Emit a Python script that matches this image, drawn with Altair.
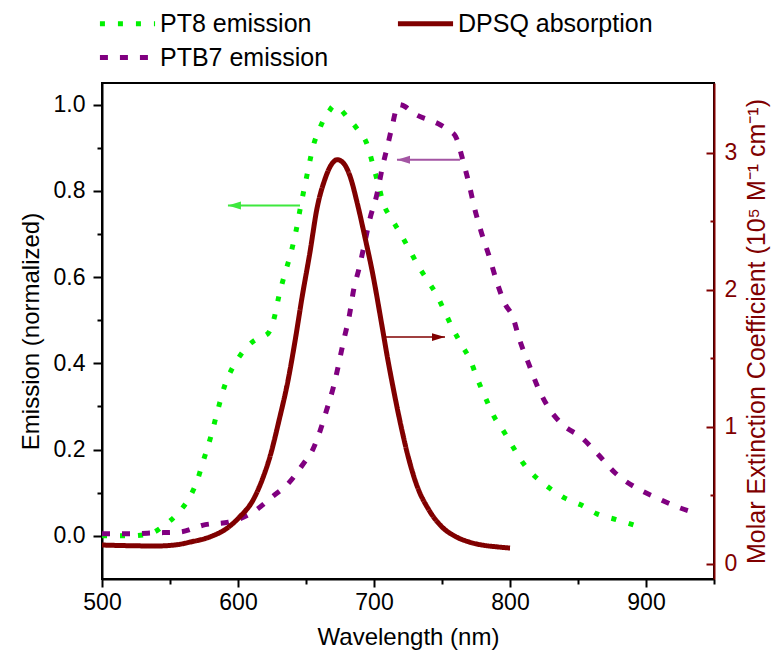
import altair as alt
import pandas as pd

# ---------------- data ----------------
pt8_wl = [500, 510, 522, 537, 545, 556, 565, 570, 574, 580, 585, 590, 596, 602, 610, 616, 622, 627, 630,
          634, 639, 643, 646, 649, 652, 655, 660, 663, 667, 671, 675, 680, 688, 695, 699, 703, 707, 713, 719,
          726, 732, 739, 746, 752, 758, 765, 771, 776, 782, 788, 796, 803, 810, 818, 829, 840, 852, 864, 879, 893]
pt8_em = [0.0, 0.0, 0.0, 0.007, 0.023, 0.053, 0.093, 0.128, 0.169, 0.23, 0.29, 0.346, 0.39, 0.42, 0.448, 0.46, 0.469, 0.51, 0.555,
          0.603, 0.657, 0.712, 0.763, 0.81, 0.856, 0.90, 0.944, 0.965, 0.985, 0.998, 0.99, 0.972, 0.942, 0.907, 0.863, 0.817, 0.77, 0.735, 0.703,
          0.664, 0.629, 0.594, 0.559, 0.52, 0.48, 0.44, 0.406, 0.364, 0.32, 0.278, 0.239, 0.202, 0.167, 0.139, 0.111, 0.088, 0.072, 0.051, 0.037, 0.023]

ptb7_wl = [500, 522, 539, 557, 576, 593, 610, 625, 638, 648, 655, 660, 665, 670, 678, 682, 685, 689, 693, 697,
           702, 706, 710, 713, 718, 723, 727, 732, 740, 747, 755, 760, 765, 770, 774, 779, 785, 790, 796, 802,
           807, 814, 820, 827, 838, 853, 865, 878, 893, 908, 924, 939]
ptb7_em = [0.005, 0.005, 0.007, 0.009, 0.026, 0.032, 0.053, 0.09, 0.125, 0.167, 0.2, 0.24, 0.29, 0.343, 0.457, 0.513, 0.57, 0.62, 0.677, 0.735,
           0.79, 0.852, 0.905, 0.945, 1.0, 0.995, 0.985, 0.975, 0.965, 0.956, 0.94, 0.926, 0.875, 0.814, 0.759, 0.703, 0.645, 0.592, 0.54, 0.508,
           0.455, 0.397, 0.348, 0.304, 0.26, 0.227, 0.188, 0.144, 0.111, 0.088, 0.066, 0.051]

dpsq_wl = [500, 520, 540, 555, 565, 579, 592, 601, 611, 618, 624, 630, 637, 642, 647, 653, 658, 664, 669, 673,
           678, 682, 688, 693, 699, 706, 710, 714, 720, 726, 732, 740, 750, 760, 770, 780, 790, 800]
dpsq_abs = [0.138, 0.133, 0.131, 0.14, 0.16, 0.196, 0.261, 0.341, 0.465, 0.62, 0.8, 1.04, 1.35, 1.63, 1.94, 2.28, 2.59, 2.81, 2.92, 2.95,
            2.92, 2.84, 2.62, 2.40, 2.12, 1.73, 1.50, 1.29, 1.0, 0.75, 0.56, 0.4, 0.27, 0.2, 0.16, 0.137, 0.125, 0.116]

series_names = ["PT8 emission", "PTB7 emission", "DPSQ absorption"]
series_colors = ["#00f000", "#800080", "#800000"]
series_dashes = [[5, 13], [8, 12], [1, 0]]

x_ticks = [500, 550, 600, 650, 700, 750, 800, 850, 900, 950]
yl_ticks = [0.0, 0.1, 0.2, 0.3, 0.4, 0.5, 0.6, 0.7, 0.8, 0.9, 1.0]
yr_ticks = [0, 0.5, 1, 1.5, 2, 2.5, 3]

# arrows: [PT8 (left axis), PTB7 (left axis)], DPSQ (right axis)
arrow_left_from = [645.6, 763.2]
arrow_left_to = [592.6, 716.9]
arrow_left_y = [0.766, 0.872]
arrow_left_colors = ["#3ee83e", "#a355a3"]
arrow_right_from = [708.1]
arrow_right_to = [752.2]
arrow_right_y = [1.656]

FONT = "Liberation Sans"
DARK_RED = "#800000"
HEAD_LEFT = "M0,0L2,-0.6L2,0.6Z"
HEAD_RIGHT = "M0,0L-2,-0.6L-2,0.6Z"
LEGEND_LINE = "M-4,0L4,0"

pt8 = pd.DataFrame({"wl": pt8_wl, "val": pt8_em, "series": "PT8 emission"})
ptb7 = pd.DataFrame({"wl": ptb7_wl, "val": ptb7_em, "series": "PTB7 emission"})
dpsq = pd.DataFrame({"wl": dpsq_wl, "val": dpsq_abs, "series": "DPSQ absorption"})

x_scale = alt.Scale(domain=[500, 950], nice=False, zero=False)
yl_scale = alt.Scale(domain=[-0.1, 1.05], nice=False, zero=False)
yr_scale = alt.Scale(domain=[-0.11, 3.51], nice=False, zero=False)

x_axis = alt.Axis(
    values=x_ticks, format="d",
    labelExpr="datum.value % 100 === 0 ? datum.label : ''",
    tickSize={"condition": {"test": "datum.value % 100 === 0", "value": 8}, "value": 5},
    title="Wavelength (nm)", titleFontSize=24, labelFontSize=23,
    labelPadding=4, titlePadding=11, grid=False,
    domainColor="black", tickColor="black", domainWidth=2, tickWidth=2,
    labelColor="black", titleColor="black", labelFlush=False,
)
yl_axis = alt.Axis(
    values=yl_ticks,
    labelExpr="round(datum.value*10) % 2 === 0 ? format(datum.value, '.1f') : ''",
    tickSize={"condition": {"test": "round(datum.value*10) % 2 === 0", "value": 9}, "value": 5},
    title="Emission (normalized)", titleFontSize=24, labelFontSize=23,
    labelPadding=8, titlePadding=10, grid=False,
    domainColor="black", tickColor="black", domainWidth=2, tickWidth=2,
    labelColor="black", titleColor="black",
)
yr_axis = alt.Axis(
    orient="right", values=yr_ticks,
    labelExpr="datum.value % 1 === 0 ? format(datum.value, 'd') : ''",
    tickSize={"condition": {"test": "datum.value % 1 === 0", "value": -8}, "value": -4},
    title="Molar Extinction Coefficient  (10⁵ M⁻¹ cm⁻¹)", titleFontSize=25, labelFontSize=23,
    titleAngle=270, titleBaseline="top",
    labelPadding=18, titlePadding=8, grid=False,
    domainColor=DARK_RED, tickColor=DARK_RED, domainWidth=2, tickWidth=2,
    labelColor=DARK_RED, titleColor=DARK_RED,
)

legend = alt.Legend(
    title=None, orient="none", legendX=13, legendY=-72, columns=2,
    columnPadding=58, rowPadding=8, symbolType=LEGEND_LINE, symbolSize=190,
    symbolStrokeWidth=5, labelFont=FONT, labelFontSize=25, labelColor="black",
    labelOffset=20, labelLimit=400,
)
color = alt.Color("series:N", scale=alt.Scale(domain=series_names, range=series_colors), legend=legend)
dash = alt.StrokeDash("series:N", scale=alt.Scale(domain=series_names, range=series_dashes), legend=legend)

X = alt.X("wl:Q", scale=x_scale, axis=x_axis)

pt8_line = alt.Chart(pt8).mark_line(strokeWidth=5, interpolate="monotone", strokeCap="butt").encode(
    x=X, y=alt.Y("val:Q", scale=yl_scale, axis=yl_axis), color=color, strokeDash=dash)
ptb7_line = alt.Chart(ptb7).mark_line(strokeWidth=5, interpolate="monotone", strokeCap="butt").encode(
    x=X, y=alt.Y("val:Q", scale=yl_scale, axis=yl_axis), color=color, strokeDash=dash)

left_layers = [pt8_line, ptb7_line]
for i in range(len(arrow_left_from)):
    adf = pd.DataFrame({"wl": [arrow_left_from[i]], "wl2": [arrow_left_to[i]], "val": [arrow_left_y[i]]})
    left_layers.append(alt.Chart(adf).mark_rule(strokeWidth=2, color=arrow_left_colors[i]).encode(
        x=X, x2="wl2:Q", y=alt.Y("val:Q", scale=yl_scale, axis=yl_axis)))
    left_layers.append(alt.Chart(adf).mark_point(shape=HEAD_LEFT, size=169, filled=True, opacity=1,
                                                 color=arrow_left_colors[i]).encode(
        x=alt.X("wl2:Q", scale=x_scale, axis=x_axis), y=alt.Y("val:Q", scale=yl_scale, axis=yl_axis)))
left_group = alt.layer(*left_layers)

dpsq_line = alt.Chart(dpsq).mark_line(strokeWidth=5, interpolate="monotone").encode(
    x=X, y=alt.Y("val:Q", scale=yr_scale, axis=yr_axis), color=color, strokeDash=dash)
rdf = pd.DataFrame({"wl": arrow_right_from, "wl2": arrow_right_to, "val": arrow_right_y})
red_rule = alt.Chart(rdf).mark_rule(strokeWidth=1.5, color=DARK_RED).encode(
    x=X, x2="wl2:Q", y=alt.Y("val:Q", scale=yr_scale, axis=yr_axis))
red_head = alt.Chart(rdf).mark_point(shape=HEAD_RIGHT, size=169, filled=True, opacity=1, color=DARK_RED).encode(
    x=alt.X("wl2:Q", scale=x_scale, axis=x_axis), y=alt.Y("val:Q", scale=yr_scale, axis=yr_axis))
right_group = alt.layer(dpsq_line, red_rule, red_head)

chart = alt.layer(left_group, right_group).resolve_scale(y="independent").properties(
    width=612, height=496,
    autosize=alt.AutoSizeParams(type="none"),
    padding={"left": 102, "top": 83, "right": 62, "bottom": 79},
    background="white",
).configure_view(stroke="black", strokeWidth=2).configure_axis(
    labelFont=FONT, titleFont=FONT, titleFontWeight="normal",
).configure_legend(labelFont=FONT)

chart.save("out.html", embed_options={"renderer": "svg", "actions": False})
